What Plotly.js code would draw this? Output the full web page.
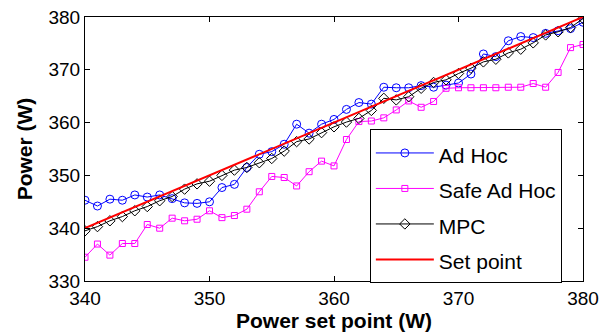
<!DOCTYPE html>
<html>
<head>
<meta charset="utf-8">
<script src="https://cdn.plot.ly/plotly-3.0.1.min.js"></script>
<style>html,body{margin:0;padding:0;background:#fff;}#chart{width:611px;height:332px;}</style>
</head>
<body>
<div id="chart"></div>
<script>
const setPointX = [340,341,342,343,344,345,346,347,348,349,350,351,352,353,354,355,356,357,358,359,360,361,362,363,364,365,366,367,368,369,370,371,372,373,374,375,376,377,378,379,380];
const adHoc = [345.3,344.2,345.5,345.3,346.3,345.9,346.3,345.6,344.8,344.7,345.0,347.7,348.3,351.5,354.0,354.5,355.9,359.7,358.0,359.7,360.6,362.5,363.8,363.5,366.7,366.6,366.6,367.0,366.7,367.1,367.5,369.2,373.0,372.5,375.5,376.3,376.1,376.9,377.4,377.8,379.0];
const safeAdHoc = [334.5,337.0,334.9,337.1,337.1,340.7,340.0,341.9,341.4,341.7,343.3,342.0,342.4,343.6,346.9,349.8,349.6,348.0,350.7,352.7,351.8,356.8,360.2,360.3,360.9,362.4,364.1,362.9,364.0,366.5,366.6,366.6,366.6,366.6,366.7,366.7,367.4,366.7,369.5,374.2,374.8];
const mpc = [339.5,340.3,341.4,342.2,343.3,344.1,345.2,346.0,347.4,348.4,348.9,350.0,351.0,351.5,352.4,353.2,354.6,356.4,356.9,358.1,359.2,360.1,360.8,362.3,364.6,364.3,364.9,366.5,367.6,368.1,369.3,370.3,371.5,372.0,373.2,373.9,375.1,376.6,377.2,378.0,379.7];
const setLineX = [340, 380];
const setLineY = [340, 380];
const xTicks = [340, 350, 360, 370, 380];
const yTicks = [330, 340, 350, 360, 370, 380];
const names = ['Ad Hoc', 'Safe Ad Hoc', 'MPC', 'Set point'];

const lg = n => '<span style="font-size:21px">' + n + '</span>';
const FONT = 'Liberation Sans, Arial, Helvetica, sans-serif';

const traces = [
  {x: setPointX, y: adHoc, name: lg(names[0]), mode: 'lines+markers',
   line: {color: '#0000ff', width: 1},
   marker: {symbol: 'circle-open', size: 8, color: '#0000ff', line: {width: 1}}},
  {x: setPointX, y: safeAdHoc, name: lg(names[1]), mode: 'lines+markers',
   line: {color: '#ff00ff', width: 1},
   marker: {symbol: 'square-open', size: 6, color: '#ff00ff', line: {width: 1}}},
  {x: setPointX, y: mpc, name: lg(names[2]), mode: 'lines+markers',
   line: {color: '#000000', width: 1},
   marker: {symbol: 'diamond-open', size: 8, color: '#000000', line: {width: 1}}},
  {x: setLineX, y: setLineY, name: lg(names[3]), mode: 'lines',
   line: {color: '#ff0000', width: 2}}
];

const axisCommon = {
  showgrid: false, zeroline: false, showline: true, linecolor: '#000', linewidth: 1,
  mirror: 'ticks', ticks: 'inside', ticklen: 5, tickcolor: '#000', tickwidth: 1,
  tickfont: {family: FONT, size: 19, color: '#000'}, tickmode: 'array'
};

const layout = {
  width: 611, height: 332,
  margin: {l: 85, r: 28, t: 17, b: 51},
  paper_bgcolor: '#fff', plot_bgcolor: '#fff',
  font: {family: FONT, color: '#000'},
  xaxis: Object.assign({}, axisCommon, {
    range: [340, 380], tickvals: xTicks, ticktext: xTicks.map(String),
    title: {text: '<b>Power set point (W)</b>', font: {family: FONT, size: 21, color: '#000'}, standoff: 3}
  }),
  yaxis: Object.assign({}, axisCommon, {
    range: [330, 380], tickvals: yTicks, ticktext: yTicks.map(String),
    title: {text: '<b>Power (W)</b>', font: {family: FONT, size: 21, color: '#000'}, standoff: 10}
  }),
  showlegend: true,
  legend: {
    x: 0.572, y: 0.575, xanchor: 'left', yanchor: 'top',
    bgcolor: '#fff', bordercolor: '#000', borderwidth: 1,
    font: {family: FONT, size: 25, color: '#000'},
    itemwidth: 58, tracegroupgap: 0
  }
};

Plotly.newPlot('chart', traces, layout, {displayModeBar: false, staticPlot: true});
</script>
</body>
</html>
